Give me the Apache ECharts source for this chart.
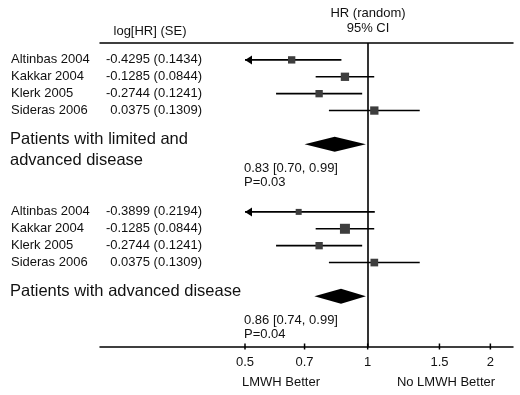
<!DOCTYPE html>
<html><head><meta charset="utf-8">
<script src="https://cdn.jsdelivr.net/npm/echarts@6/dist/echarts.min.js"></script>
<style>html,body{margin:0;padding:0;background:#fff}#c{width:520px;height:395px}</style>
</head><body><div id="c"></div>
<script>
// ---- data ----
const studies = ["Altinbas 2004", "Kakkar 2004", "Klerk 2005", "Sideras 2006"];
const logHR1 = [-0.4295, -0.1285, -0.2744, 0.0375];
const se1 = [0.1434, 0.0844, 0.1241, 0.1309];
const weight1 = [21, 27, 21, 27];
const logHR2 = [-0.3899, -0.1285, -0.2744, 0.0375];
const se2 = [0.2194, 0.0844, 0.1241, 0.1309];
const weight2 = [14, 39, 21, 23];
const groupLabels = ["Patients with limited and\nadvanced disease", "Patients with advanced disease"];
const pooledHR = [0.83, 0.86];
const pooledLo = [0.70, 0.74];
const pooledHi = [0.99, 0.99];
const pValues = ["0.03", "0.04"];
const tickHR = [0.5, 0.7, 1, 1.5, 2];

// ---- build ----
const FONT = "'Liberation Sans', Arial, sans-serif";
const ROWS_PER_GROUP = 9, DIAMOND_ROW = 5;
const Y_MIN = -1, Y_MAX = 17;
const clipLo = Math.log(tickHR[0]);
const groups = [
  {logHR: logHR1, se: se1, w: weight1},
  {logHR: logHR2, se: se2, w: weight2}
];
const ciData = [], sqData = [], rowText = [], diaData = [];
groups.forEach((g, gi) => {
  const base = gi * ROWS_PER_GROUP;
  g.logHR.forEach((v, i) => {
    const row = base + i;
    ciData.push([v - 1.96 * g.se[i], v + 1.96 * g.se[i], row]);
    sqData.push([v, row, g.w[i]]);
    rowText.push({row: row, name: studies[i], txt: v.toFixed(4) + " (" + g.se[i].toFixed(4) + ")"});
  });
  diaData.push([Math.log(pooledLo[gi]), Math.log(pooledHR[gi]), Math.log(pooledHi[gi]), base + DIAMOND_ROW]);
});

function txt(text, x, y, align, size, vAlign, extra) {
  const s = {
    text: text, x: x, y: y, fill: '#111',
    font: size + 'px ' + FONT,
    align: align, textAlign: align,
    verticalAlign: vAlign || 'middle', textVerticalAlign: vAlign || 'middle'
  };
  if (extra) Object.assign(s, extra);
  return {type: 'text', style: s};
}

const xMin = -1.5124, xMax = 0.821;
const tickVals = tickHR.map(Math.log);

const chart = echarts.init(document.getElementById('c'), null, {renderer: 'canvas'});
chart.setOption({
  animation: false,
  backgroundColor: '#fff',
  grid: {left: 100, right: 7, top: 43, bottom: 48},
  xAxis: [
    {
      type: 'value', min: xMin, max: xMax, position: 'bottom',
      axisLine: {show: true, onZero: false, lineStyle: {color: '#000', width: 1.5}},
      axisTick: {show: false},
      axisLabel: {
        customValues: tickVals, margin: 9, fontSize: 13, color: '#111', fontFamily: FONT,
        formatter: v => String(parseFloat(Math.exp(v).toFixed(2)))
      },
      splitLine: {show: false}
    },
    {
      type: 'value', min: xMin, max: xMax, position: 'top',
      axisLine: {show: true, onZero: false, lineStyle: {color: '#000', width: 1.5}},
      axisTick: {show: false}, axisLabel: {show: false}, splitLine: {show: false}
    }
  ],
  yAxis: {type: 'value', inverse: true, min: Y_MIN, max: Y_MAX, show: false},
  graphic: [
    txt('log[HR] (SE)', 150, 31, 'center', 13),
    txt('HR (random)', 368, 13, 'center', 13),
    txt('95% CI', 368, 28, 'center', 13),
    txt('LMWH Better', 281, 382, 'center', 13),
    txt('No LMWH Better', 446, 382, 'center', 13)
  ],
  series: [
    {
      // axis tick marks crossing the bottom axis line
      type: 'custom', name: 'ticks', data: tickVals.map(v => [v, Y_MAX]), z: 5, clip: false,
      renderItem: function (params, api) {
        const p = api.coord([api.value(0), api.value(1)]);
        return {
          type: 'group', children: [{
            type: 'line', shape: {x1: p[0], y1: p[1] - 3.5, x2: p[0], y2: p[1] + 2.5},
            style: {stroke: '#000', lineWidth: 1.5}
          }]
        };
      }
    },
    {
      type: 'custom', name: 'ci', data: ciData, z: 2, clip: false,
      renderItem: function (params, api) {
        const lo = api.value(0), hi = api.value(1), row = api.value(2);
        const clipped = lo < clipLo;
        const p1 = api.coord([clipped ? clipLo : lo, row]);
        const p2 = api.coord([hi, row]);
        const children = [{
          type: 'line', shape: {x1: p1[0], y1: p1[1], x2: p2[0], y2: p2[1]},
          style: {stroke: '#000', lineWidth: 1.6}
        }];
        if (clipped) {
          children.push({
            type: 'polygon',
            shape: {points: [[p1[0], p1[1]], [p1[0] + 7, p1[1] - 4.5], [p1[0] + 7, p1[1] + 4.5]]},
            style: {fill: '#000'}
          });
        }
        return {type: 'group', children: children};
      }
    },
    {
      type: 'scatter', name: 'hr', data: sqData, z: 3,
      symbol: 'rect', symbolSize: d => 1.6 * Math.sqrt(d[2]),
      itemStyle: {color: '#3d3d3d', opacity: 1},
      markLine: {
        silent: true, symbol: 'none', animation: false,
        label: {show: false},
        lineStyle: {color: '#000', width: 1.6, type: 'solid'},
        data: [{xAxis: 0}]
      }
    },
    {
      type: 'custom', name: 'pooled', data: diaData, z: 3, clip: false,
      renderItem: function (params, api) {
        const row = api.value(3);
        const l = api.coord([api.value(0), row]);
        const m = api.coord([api.value(1), row]);
        const r = api.coord([api.value(2), row]);
        const h = 7.5;
        const gi = params.dataIndex;
        const base = api.coord([clipLo, row]);
        const y1 = api.coord([0, row + 1.4])[1];
        const y2 = api.coord([0, row + 2.25])[1];
        const yl = api.coord([0, row - 0.3])[1];
        return {
          type: 'group', children: [
            {type: 'polygon', shape: {points: [[l[0], l[1]], [m[0], m[1] - h], [r[0], r[1]], [m[0], m[1] + h]]}, style: {fill: '#000'}},
            txt(pooledHR[gi].toFixed(2) + ' [' + pooledLo[gi].toFixed(2) + ', ' + pooledHi[gi].toFixed(2) + ']', base[0] - 1, y1, 'left', 13),
            txt('P=' + pValues[gi], base[0] - 1, y2, 'left', 13),
            txt(groupLabels[gi], 10, yl - 10.5, 'left', 16.5, 'top', {lineHeight: 21})
          ]
        };
      }
    },
    {
      type: 'custom', name: 'labels', data: rowText.map(r => [0, r.row]), z: 4, clip: false,
      renderItem: function (params, api) {
        const y = api.coord([0, api.value(1)])[1];
        const r = rowText[params.dataIndex];
        return {
          type: 'group', children: [
            txt(r.name, 11, y, 'left', 13),
            txt(r.txt, 202, y, 'right', 13)
          ]
        };
      }
    }
  ]
});
</script>
</body></html>
